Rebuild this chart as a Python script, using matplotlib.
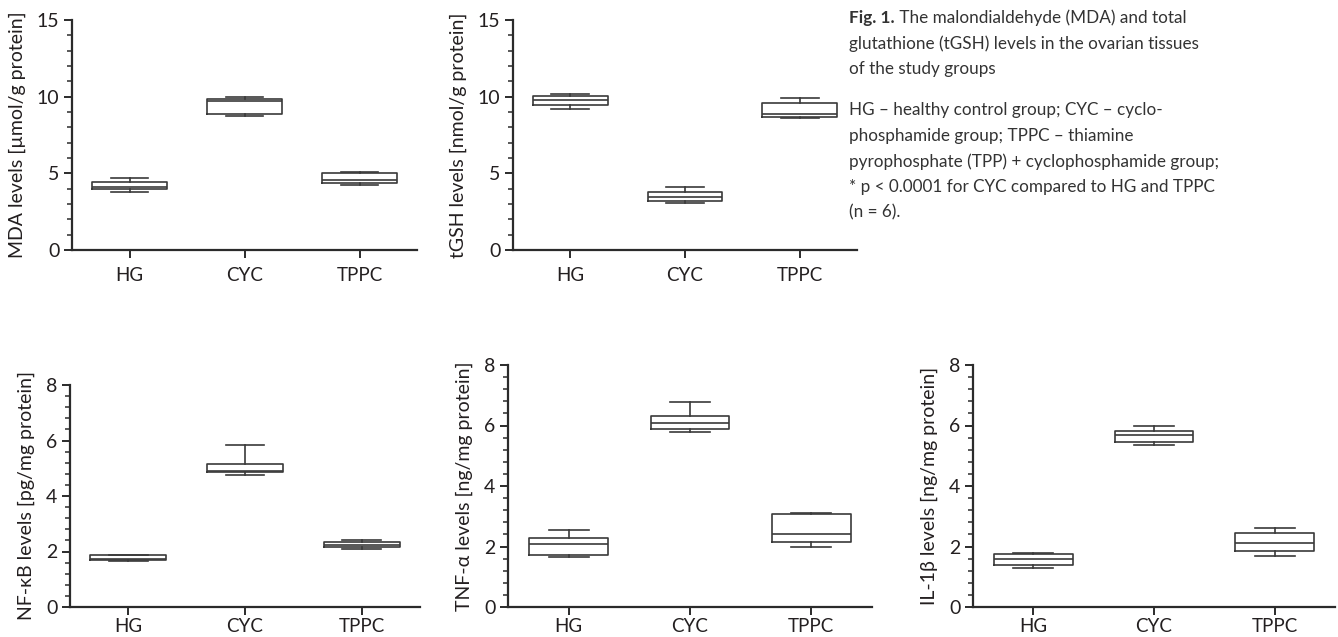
import matplotlib
matplotlib.use("Agg")
import matplotlib.pyplot as plt
from matplotlib.ticker import MultipleLocator

# ---------------- data (five-number summaries: min, Q1, median, Q3, max) ----------------
groups = ["HG", "CYC", "TPPC"]

mda_hg = [3.81, 3.96, 4.09, 4.46, 4.72]
mda_cyc = [8.74, 8.87, 9.74, 9.85, 9.96]
mda_tppc = [4.26, 4.35, 4.57, 5.02, 5.07]

tgsh_hg = [9.18, 9.43, 9.78, 10.07, 10.17]
tgsh_cyc = [3.09, 3.20, 3.46, 3.78, 4.09]
tgsh_tppc = [8.61, 8.70, 8.89, 9.61, 9.91]

nfkb_hg = [1.66, 1.70, 1.73, 1.87, 1.88]
nfkb_cyc = [4.77, 4.85, 4.90, 5.15, 5.84]
nfkb_tppc = [2.10, 2.15, 2.23, 2.33, 2.41]

tnf_hg = [1.65, 1.71, 2.09, 2.29, 2.56]
tnf_cyc = [5.79, 5.88, 6.09, 6.30, 6.79]
tnf_tppc = [1.98, 2.16, 2.41, 3.07, 3.12]

il1b_hg = [1.28, 1.38, 1.58, 1.74, 1.79]
il1b_cyc = [5.36, 5.46, 5.70, 5.82, 5.98]
il1b_tppc = [1.70, 1.86, 2.11, 2.44, 2.60]

ylabels = ["MDA levels [µmol/g protein]", "tGSH levels [nmol/g protein]",
           "NF-κB levels [pg/mg protein]", "TNF-α levels [ng/mg protein]",
           "IL-1β levels [ng/mg protein]"]

caption_bold = "Fig. 1."
caption_p1 = [" The malondialdehyde (MDA) and total",
              "glutathione (tGSH) levels in the ovarian tissues",
              "of the study groups"]
caption_p2 = ["HG – healthy control group; CYC – cyclo-",
              "phosphamide group; TPPC – thiamine",
              "pyrophosphate (TPP) + cyclophosphamide group;",
              "* p < 0.0001 for CYC compared to HG and TPPC",
              "(n = 6)."]

# ---------------- style ----------------
plt.rcParams["font.family"] = ["Lato", "DejaVu Sans"]
TXT = "#231f20"
CAP = "#333333"
LINE = "#3a3a3a"

W, H = 1338, 637
fig = plt.figure(figsize=(W / 100, H / 100), dpi=100)


def axes_px(left, right, top, bottom):
    return fig.add_axes([left / W, 1 - bottom / H, (right - left) / W, (bottom - top) / H])


def stats_of(vals_list):
    out = []
    for lab, v in zip(groups, vals_list):
        out.append(dict(whislo=v[0], q1=v[1], med=v[2], q3=v[3], whishi=v[4],
                        fliers=[], label=lab))
    return out


panels = [
    (axes_px(72, 417, 20, 250), [mda_hg, mda_cyc, mda_tppc], 15, 5, 1, 6),
    (axes_px(513, 857, 20, 250), [tgsh_hg, tgsh_cyc, tgsh_tppc], 15, 5, 1, 6),
    (axes_px(70, 420, 385, 607), [nfkb_hg, nfkb_cyc, nfkb_tppc], 8, 2, 0.4, 2),
    (axes_px(508, 872, 365, 607), [tnf_hg, tnf_cyc, tnf_tppc], 8, 2, 0.4, 2),
    (axes_px(973, 1335, 365, 607), [il1b_hg, il1b_cyc, il1b_tppc], 8, 2, 0.4, 2),
]

lp = dict(color=LINE, linewidth=1.2)
for (ax, data, ymax, major, minor, xpad), ylab in zip(panels, ylabels):
    ax.bxp(stats_of(data), positions=[0, 1, 2], widths=0.65, capwidths=0.33,
           showfliers=False, boxprops=lp, whiskerprops=lp, capprops=lp,
           medianprops=lp)
    ax.set_xlim(-0.5, 2.5)
    ax.set_ylim(0, ymax)
    ax.set_xticks([0, 1, 2])
    ax.set_xticklabels(groups)
    ax.yaxis.set_major_locator(MultipleLocator(major))
    ax.yaxis.set_minor_locator(MultipleLocator(minor))
    for s in ("top", "right"):
        ax.spines[s].set_visible(False)
    for s in ("left", "bottom"):
        ax.spines[s].set_linewidth(1.6)
        ax.spines[s].set_color("#2b2b2b")
    ax.tick_params(axis="both", which="major", direction="out", length=6, width=1.4,
                   color="#2b2b2b", labelsize=14, labelcolor=TXT)
    ax.tick_params(axis="x", which="major", pad=xpad, labelsize=13.5)
    ax.tick_params(axis="y", which="major", pad=3)
    ax.tick_params(axis="y", which="minor", direction="out", length=3.5, width=1.1,
                   color="#2b2b2b")
    ax.set_ylabel(ylab, fontsize=14, color=TXT, labelpad=8)
    ax.set_facecolor("none")

# ---------------- caption ----------------
cx = 849
fs_cap = 12.3
lh = 25.7
y0 = 18
t_bold = fig.text(cx / W, 1 - y0 / H, caption_bold, fontsize=fs_cap, fontweight="bold",
                  color=CAP, va="center", ha="left")
fig.canvas.draw()
bb = t_bold.get_window_extent()
fig.text(bb.x1 / W, 1 - y0 / H, caption_p1[0], fontsize=fs_cap, color=CAP,
         va="center", ha="left")
for i, line in enumerate(caption_p1[1:], start=1):
    fig.text(cx / W, 1 - (y0 + i * lh) / H, line, fontsize=fs_cap, color=CAP,
             va="center", ha="left")
y1 = 110
for i, line in enumerate(caption_p2):
    fig.text(cx / W, 1 - (y1 + i * lh) / H, line, fontsize=fs_cap, color=CAP,
             va="center", ha="left")

fig.savefig("out.png", dpi=100, facecolor="white")
